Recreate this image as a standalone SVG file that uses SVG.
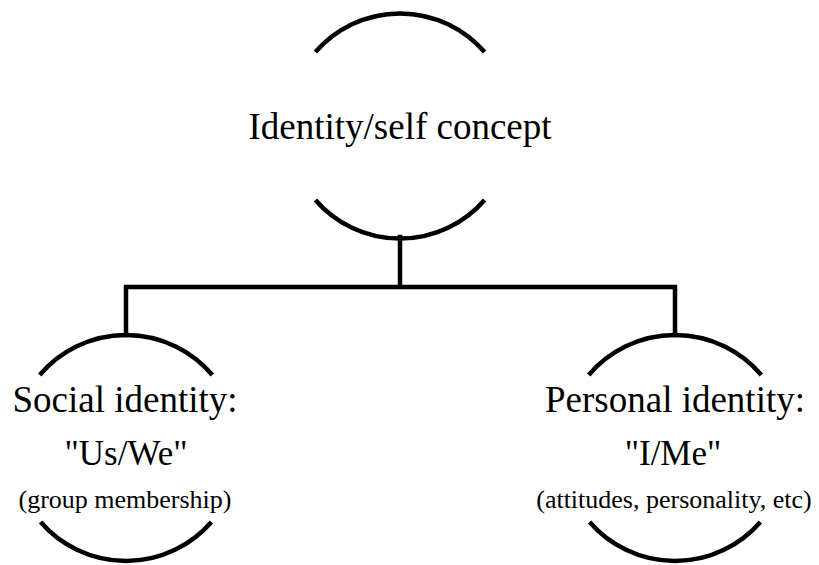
<svg xmlns="http://www.w3.org/2000/svg" width="819" height="565" viewBox="0 0 819 565">
<style>
.arc{fill:none;stroke:#000;stroke-width:4.5}
.con{fill:none;stroke:#000;stroke-width:4.5;stroke-linecap:square}
text{font-family:"Liberation Serif","Times New Roman",serif;fill:#000;text-anchor:middle}
.big{font-size:37px}
.mid{font-size:35px}
.small{font-size:26px}
</style>
<rect width="819" height="565" fill="#fff"/>
<g id="connectors">
<path class="con" d="M400,237 V287 M126,287 H675 M126,287 V335 M675,287 V335"/>
</g>
<g id="identity">
<path class="arc" d="M315.4,52 A112,112 0 0 1 484.6,52"/>
<path class="arc" d="M315.4,200 A112,112 0 0 0 484.6,200"/>
<text class="big" x="400" y="139">Identity/self concept</text>
</g>
<g id="social">
<path class="arc" d="M39.7,375 A113,113 0 0 1 212.3,375"/>
<path class="arc" d="M40.6,522 A113,113 0 0 0 211.4,522"/>
<text class="big" x="125" y="412">Social identity:</text>
<text class="mid" x="126" y="465">"Us/We"</text>
<text class="small" x="125" y="508">(group membership)</text>
</g>
<g id="personal">
<path class="arc" d="M588.7,375 A113,113 0 0 1 761.3,375"/>
<path class="arc" d="M589.6,522 A113,113 0 0 0 760.4,522"/>
<text class="big" x="675" y="412">Personal identity:</text>
<text class="mid" x="673" y="465">"I/Me"</text>
<text class="small" x="674" y="508">(attitudes, personality, etc)</text>
</g>
</svg>
